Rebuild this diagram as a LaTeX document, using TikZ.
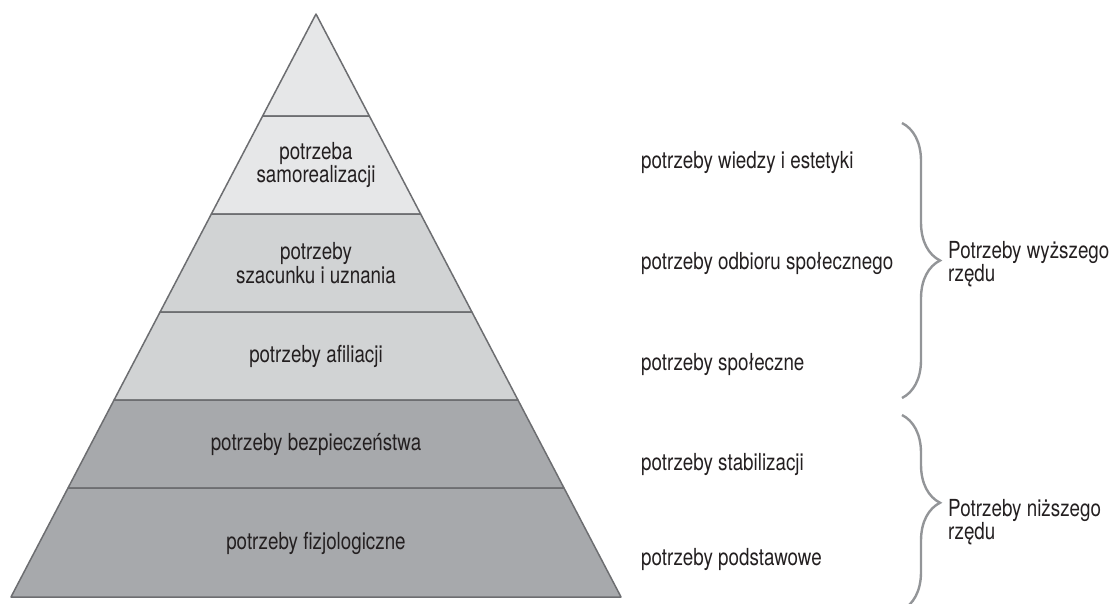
\documentclass[tikz,border=0pt]{standalone}
\usepackage{fontspec}
\setmainfont{TeX Gyre Heros}[FakeStretch=0.8]
\usetikzlibrary{decorations.pathreplacing}
\usepackage{xcolor}
\definecolor{tierlight}{HTML}{E6E7E8}
\definecolor{tiermid}{HTML}{D1D3D4}
\definecolor{tierdark}{HTML}{A7A9AC}
\definecolor{tieredge}{HTML}{6D6E71}
\definecolor{bracegray}{HTML}{939598}
\definecolor{inkgray}{HTML}{231F20}

\begin{document}
\begin{tikzpicture}[x=1pt, y=-1pt,
        tiertext/.style={text=inkgray, align=center, inner sep=0pt,
                         font=\fontsize{23.5}{22}\selectfont},
        sidetext/.style={text=inkgray, anchor=base west, inner sep=0pt,
                         font=\fontsize{23.5}{22}\selectfont},
        grouptext/.style={text=inkgray, anchor=north west, align=left, inner sep=0pt,
                          font=\fontsize{23.5}{23}\selectfont},
        curly/.style={draw=bracegray, line width=2.4pt, decorate,
                      decoration={brace, amplitude=38pt, #1}}]
        \useasboundingbox (0,0) rectangle (1114,603);
        % pyramid tiers, top to bottom
        \foreach \t/\b/\c in {14/116/tierlight, 116/214/tierlight, 214/312/tiermid,
                              312/400/tiermid, 400/488/tierdark, 488/597/tierdark}{
            \filldraw[fill=\c, draw=tieredge, line width=1.5pt, line join=round]
                ({316-0.5232*(\t-14)}, \t) -- ({316+0.5232*(\t-14)}, \t)
                -- ({316+0.5232*(\b-14)}, \b) -- ({316-0.5232*(\b-14)}, \b) -- cycle;
        }
        \node[tiertext] (selfreal) at (316,165) {potrzeba\\samorealizacji};
        \node[tiertext] (esteem) at (316,263) {potrzeby\\szacunku i uznania};
        \node[tiertext] (belong) at (316,356) {potrzeby afiliacji};
        \node[tiertext] (safety) at (316,444) {potrzeby bezpieczeństwa};
        \node[tiertext] (physio) at (316,543) {potrzeby fizjologiczne};
        % needs on the right
        \foreach \y/\txt [count=\i] in {168/potrzeby wiedzy i estetyki,
                                        269/potrzeby odbioru społecznego,
                                        370/potrzeby społeczne,
                                        470/potrzeby stabilizacji,
                                        565/potrzeby podstawowe}{
            \node[sidetext] (need\i) at (641,\y) {\txt};
        }
        % braces
        \coordinate (hiTop) at (902,123);
        \coordinate (hiBot) at (902,398);
        \coordinate (loTop) at (902,415);
        \coordinate (loBot) at (902,610);
        \draw[curly={aspect=0.5}] (hiTop) -- (hiBot);
        \draw[curly={aspect=0.45}] (loTop) -- (loBot);
        \node[grouptext] (higher) at (948,241) {Potrzeby wyższego\\rzędu};
        \node[grouptext] (lower) at (948,499) {Potrzeby niższego\\rzędu};
    \end{tikzpicture}
\end{document}
